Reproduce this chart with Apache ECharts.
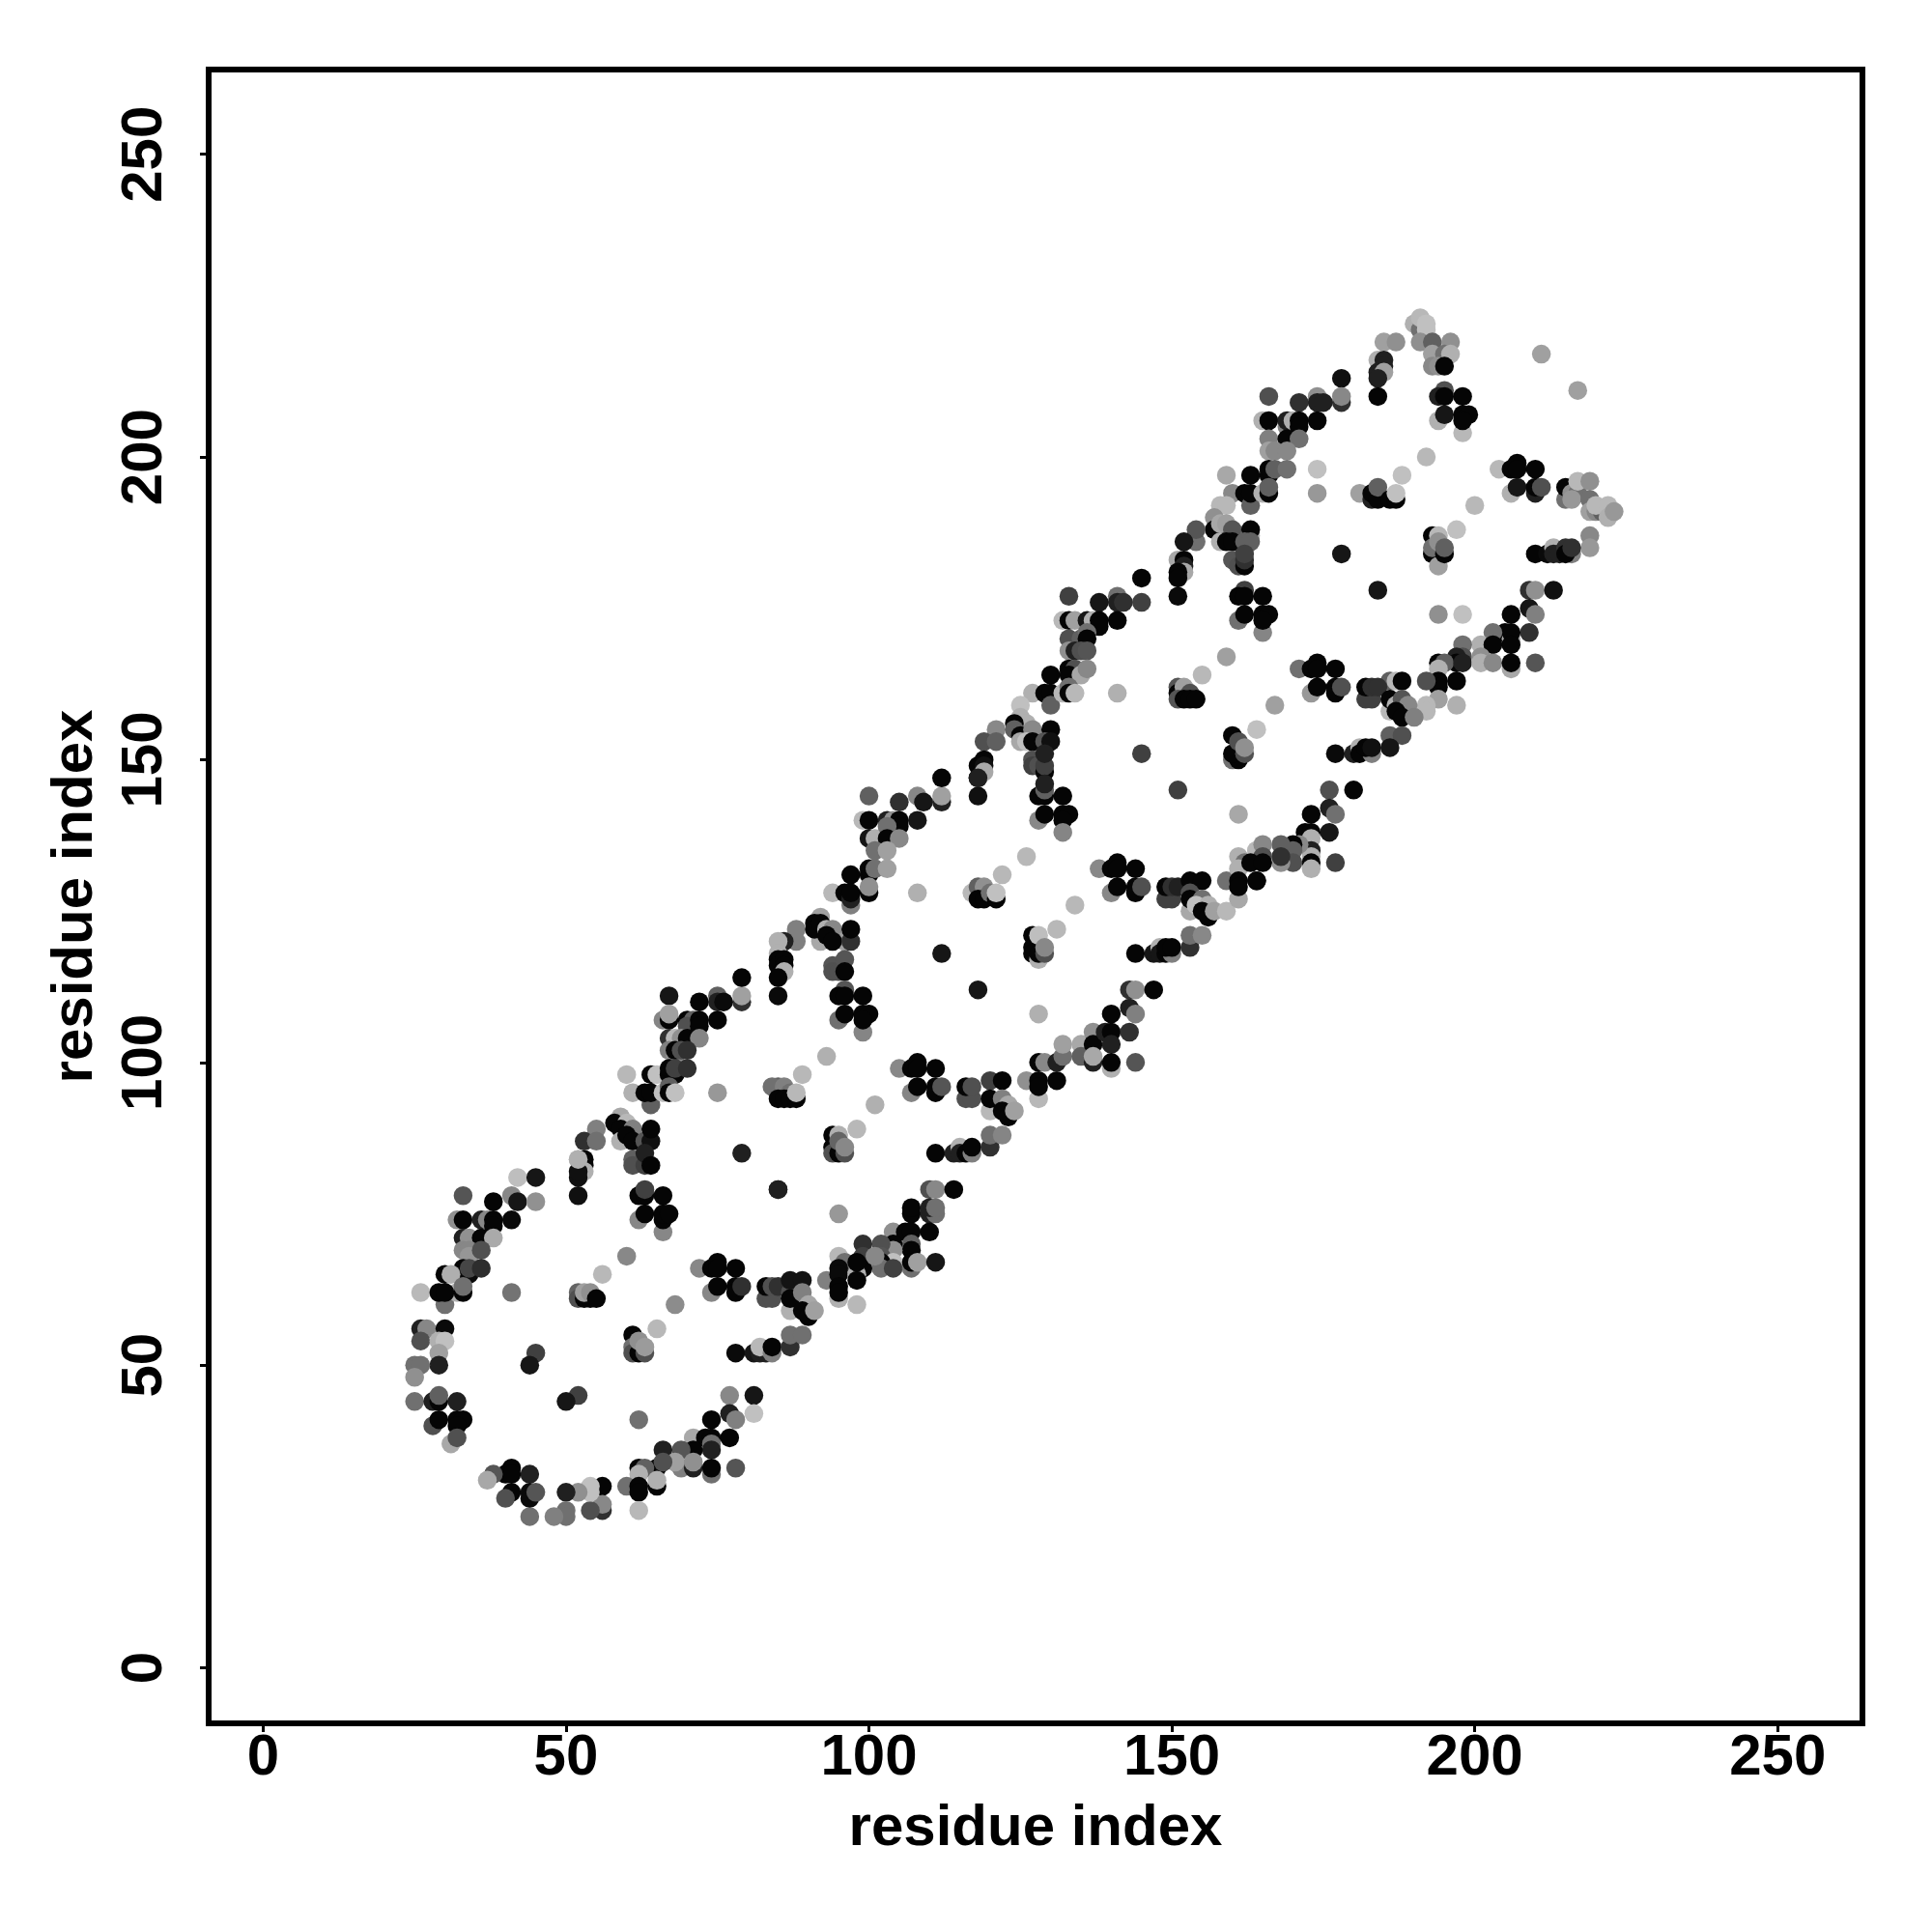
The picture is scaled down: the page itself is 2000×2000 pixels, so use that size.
<!DOCTYPE html>
<html>
<head>
<meta charset="utf-8">
<style>html,body{margin:0;padding:0;background:#fff}#c{width:2000px;height:2000px}</style>
<script src="https://cdn.jsdelivr.net/npm/echarts@6/dist/echarts.min.js"></script>
</head>
<body>
<div id="c"></div>
<script>
// every contact: [residue i, residue j, grey level of the point]
const tickValues = [0, 50, 100, 150, 200, 250];
const axisTitle = "residue index";

const contactsLowerTurn = [
[42,81,190],[45,81,22],[33,78,85],[41,78,135],[38,77,5],[42,77,22],[45,77,145],
[32,74,145],[33,74,5],[36,74,32],[37,74,135],[38,74,5],[38,73,5],[41,74,10],
[33,71,32],[34,71,145],[36,71,5],[38,71,170],
[33,69,135],[34,69,135],[34,68,150],[36,69,80],
[33,66,5],[33,65,5],[34,65,10],[34,66,70],[36,66,45],[30,65,5],[31,65,175],
[30,60,112],[26,62,185],[29,62,5],[32,62,176],[33,62,5],[33,63,112],[30,62,5],
[41,62,115],
[52,84,176],[53,84,5],[53,83,5],[53,82,176],[52,81,16],[52,82,16],[52,78,16],
[62,74,135],[63,75,5],[62,78,5],[63,78,5],[63,79,64],[66,78,5],[66,72,135],[66,74,5],[66,75,5],[67,75,5],
[85,79,32],[95,75,152],[60,68,136],[56,65,184],
[52,62,100],[52,61,80],[53,61,5],[54,61,5],[53,62,160],[54,62,144],[55,61,5],
[72,66,135],[74,66,5],[75,67,5],[75,66,5],[78,66,5],[74,62,135],[75,63,5],[78,63,5],[78,62,5],[79,63,48],
[83,61,80],[84,61,80],[83,63,5],[84,63,80],[85,63,48],[87,59,176],[87,62,80],[87,61,5],[87,64,20],[89,64,20],[89,62,128],[90,60,168],[89,59,5],[90,58,5],[91,59,160],
[93,64,128],[95,68,184],[96,67,112],[95,61,176],[95,66,10],[95,65,10],[95,63,5],[95,62,5],
[26,56,32],[27,56,135],[30,56,10],[26,54,80],[29,54,176],[30,54,192],[29,52,160],[29,50,32],[25,50,112],[26,50,112],[25,48,144],
[45,52,64],[44,50,22],[52,45,64],[50,44,22],
[61,55,5],[61,53,112],[61,52,80],[62,52,5],[63,52,80],[62,54,144],[63,53,155],
[65,56,184],[68,60,140],
[78,52,10],[81,52,22],[82,52,32],[83,52,32],[82,53,184],[84,52,128],[84,53,5],[87,53,48],[87,55,112],[89,55,112],
[77,45,136],[81,45,22],[81,42,192],[77,42,32],[78,41,128],[74,41,5],[62,41,112],
[71,38,168],[77,38,5],[73,38,5],[74,38,5],[74,37,112],[74,36,32],[71,36,5],[69,36,85],[66,36,32],
[69,33,128],[68,34,160],[71,33,32],[71,34,144],[74,32,112],[74,33,5],[78,33,85],
[65,33,5],[66,34,80],[62,33,5],[63,33,96],[62,32,176],[65,30,5],[65,31,176],[60,30,112],[62,30,5],[62,29,5],[62,26,184],
[56,30,5],[56,26,48],[56,27,136],[54,26,80],[54,30,192],[54,29,192],[52,29,144],[50,29,32],[50,26,112],[50,25,112],[48,25,128],[44,25,112],
[44,32,32],[41,33,5],[40,32,5],[41,32,5],[38,32,85],[37,31,168],[41,29,5],[40,28,80],[44,29,10],[44,28,10],[45,29,85],
[25,44,112],[28,44,32],[29,44,5],[29,45,96],[32,44,32],[28,40,80],[29,41,5],[32,41,5],[33,41,5],[32,40,5],[31,37,168],[32,38,80]
];

const contactsSecondTurn = [
[100,144,96],[105,143,48],[108,144,136],[109,143,22],[112,143,32],[112,144,160],[112,147,5],
[118,144,16],[118,147,16],
[128,140,136],[128,144,5],[129,144,5],[129,145,96],[132,144,5],[129,141,5],[132,141,5],[133,141,5],[132,140,5],[132,138,133],
[151,145,64],[161,141,168],
[99,140,184],[100,140,5],[103,140,32],[104,140,144],[105,140,5],[105,139,5],[108,140,22],
[100,137,22],[101,137,176],[103,139,112],[103,137,5],[105,137,136],
[101,135,112],[103,135,160],
[97,131,5],[100,131,5],[100,132,5],[101,132,112],[103,132,160],[100,128,5],[100,129,144],
[94,128,184],[96,128,5],[97,126,128],[97,127,32],[97,128,5],[108,128,176],
[117,128,184],[118,129,96],[119,129,144],[118,127,5],[119,127,5],[120,128,112],[121,127,5],[121,128,192],
[122,131,184],[126,134,184],[134,126,184],[131,122,184],
[127,121,5],[127,119,5],[127,118,5],[128,117,176],[128,118,5],[129,118,80],[128,121,190],[129,119,136],
[138,132,136],[140,132,5],[141,133,5],[141,132,5],[144,132,5],[140,128,136],[141,129,5],[144,129,5],[144,128,5],[145,129,80],
[149,127,64],[150,127,64],[149,129,5],[150,129,48],[151,129,32],[153,130,5],[155,130,5],[153,125,168],[153,128,80],[153,127,5],[155,127,112],[154,126,192],[156,126,176],[155,125,5],[156,124,5],[157,125,160],[159,125,184],
[159,130,112],[164,135,176],[161,134,176],[162,133,112],[161,132,176],[161,127,168],[161,130,5],[161,129,5],[164,130,5],
[88,122,128],[88,120,128],[86,120,32],[92,124,160],[92,120,168],[91,123,5],[91,122,5],[92,123,5],[93,122,176],[94,122,136],[93,121,5],[96,120,160],[94,120,5],[97,120,48],[97,122,5],
[94,116,85],[94,115,80],[95,115,80],[96,117,85],[96,115,5],
[85,120,176],[85,118,176],[85,117,5],[85,116,5],[86,117,5],[86,116,5],[86,115,176],[85,114,5],[85,111,10],
[112,118,22],[118,112,22],
[96,112,85],[95,111,5],[96,111,5],[99,111,5],[95,107,112],[96,108,5],[99,105,133],[99,108,5],[100,108,5],[99,107,5],
[128,108,176],[93,101,176],[89,98,184],[101,93,176],[98,89,184],
[105,99,136],[107,99,5],[108,100,5],[108,99,5],[111,99,5],[107,95,133],[108,96,5],[111,96,5],[111,95,5],[112,96,85],
[116,94,80],[117,94,80],[116,96,5],[117,96,80],[120,97,64],[122,97,5],[120,92,184],[120,94,5],[122,94,128],[123,93,168],[122,92,5],[123,91,5],[124,92,160],
[126,97,144],[128,94,184],[128,97,5],[128,96,5],[131,97,5],
[128,100,5],[129,100,136],[131,100,32],[132,101,112],[132,103,160],[135,103,168],[135,101,96],
[137,105,144],[137,100,32],[137,103,5],[137,101,168],[139,105,32],[140,105,5],[140,99,176],[140,103,32],[140,100,5],[143,105,48],[144,100,85],[140,108,5],[143,109,32],[144,108,128],[143,112,48],[144,112,144],[147,112,5],
[144,118,5],[147,118,22],[148,119,176],[148,118,22],[149,118,5],[150,118,128],[149,119,5],[150,119,5],[153,119,48],[153,121,112],[155,121,136],
[111,85,5],[114,85,32],[115,86,176],[115,85,32],[116,85,5],[117,85,128],[117,86,5],[120,86,48],[120,88,112],[122,88,133],
[94,88,5],[94,86,5],[94,85,80],[95,85,5],[95,88,176],[95,87,100],[96,85,80],[96,86,136],
[85,79,32],[110,79,80],[111,79,136],[114,79,5],[107,76,5],[110,76,32],[111,76,112],
[85,96,96],[84,96,112],[86,96,128],[87,95,112],[85,94,5],[86,94,5],[87,94,5],[88,94,5],[88,95,184]
];

const contactsTopTurn = [
[190,222,176],[191,221,112],[191,223,184],[192,222,192],[192,221,192],[191,219,144],
[185,219,160],[187,219,144],[193,219,96],[196,219,144],
[193,217,160],[195,217,112],[196,217,176],[193,215,136],[194,215,144],[195,215,5],
[211,217,160],[217,211,160],
[184,216,176],[185,216,32],[185,215,32],[184,214,32],[185,214,160],[184,213,32],[184,210,5],
[178,213,16],[178,209,48],[178,210,136],[174,210,144],[174,209,32],[175,209,32],[171,209,48],[166,210,80],
[195,211,80],[194,210,32],[195,210,5],[198,210,5],[194,206,176],[195,207,22],[198,207,5],[199,207,5],[198,204,184],[198,206,5],
[165,206,176],[166,206,5],[169,205,128],[169,206,32],[170,206,176],[171,206,5],[171,205,5],[174,206,5],
[166,203,128],[169,203,5],[171,203,112],[166,201,160],[167,201,136],[169,201,136],
[166,197,5],[166,198,5],[167,198,96],[169,198,112],[163,197,5],[159,197,168],[174,198,192],[174,194,152],
[160,194,136],[162,194,5],[163,192,96],[163,194,5],[165,194,176],[166,194,5],[166,195,96],
[158,192,184],[159,192,184],[157,190,144],[157,188,5],[158,188,5],[158,189,168],[159,189,160],[160,188,85],[163,187,176],[163,188,5],[154,186,112],[154,188,85],[152,186,22],[158,186,176],[159,186,5],[160,186,5],[162,186,96],[163,186,96],
[160,183,85],[161,182,80],[162,182,5],[162,183,48],[162,184,64],
[151,183,168],[152,183,5],[152,182,32],[152,181,168],[151,181,5],[151,180,5],[151,177,10],
[178,184,22],[184,178,22],
[162,178,64],[161,177,5],[162,177,5],[165,177,5],[161,173,112],[162,174,5],[165,171,133],[165,174,5],[166,174,5],[165,173,5],
[194,174,144],[198,174,192],
[193,187,5],[194,187,184],[193,184,5],[193,185,112],[194,182,160],[194,186,144],[195,184,5],[195,185,96],
[197,188,192],[200,192,184],[188,197,192],[192,200,184],
[181,194,160],[183,193,32],[183,194,5],[184,193,5],[184,195,96],[186,193,5],[187,193,5],[187,194,192],
[204,198,184],[206,198,5],[207,199,5],[207,198,5],[210,198,5],[206,194,176],[207,195,22],[210,194,32],[210,195,5],[211,195,80],
[215,193,112],[215,195,5],[216,194,144],[217,194,112],[216,193,152],[217,196,184],[219,196,144],[219,193,112],[219,191,160],[220,191,136],[221,191,96],[220,192,184],[222,192,184],[222,190,176],[223,191,152],
[219,187,136],[219,185,152],[210,184,5],[212,184,10],[213,185,176],[213,184,32],[214,184,32],[215,185,48],[216,184,128],[215,184,5],[216,185,48],
[209,178,48],[210,178,144],[213,178,16],[209,175,22],[210,174,128],[206,174,5],[209,171,48],[210,166,85],[205,171,5],[206,170,168],[206,171,5],[206,169,5],[203,171,112],[201,169,176],[203,169,5],
[198,169,112],[198,167,80],[197,167,32],[197,166,5],[194,166,5],[195,166,96],[198,166,32],[201,167,144],[201,166,176],[203,166,136],[206,165,168],[206,166,5],
[194,165,176],[194,163,5],[194,162,5],[197,163,5],[192,163,80],[194,160,160],[197,159,176],[192,159,184],[192,158,184],
[186,163,96],[187,163,184],[188,163,5],
[182,160,64],[183,160,64],[182,162,5],[183,162,48],[184,162,48],[186,158,184],[186,160,5],[187,159,176],[188,160,85],[189,159,136],[187,158,5],[188,157,5],[190,157,128],
[186,154,96],[188,154,80],[186,152,22],
[177,151,10],[180,151,32],[181,152,176],[181,151,5],[183,151,128],[182,152,5],[183,152,16],
[171,165,112],[173,165,5],[174,166,5],[174,165,5],[177,165,5],[173,161,152],[174,162,5],[177,162,5],[177,161,5],[178,162,80],
[159,167,160],[155,164,184],[167,159,160],[164,155,192],
[151,162,85],[151,161,5],[152,162,160],[153,161,80],[151,160,85],[152,160,5],[153,160,5],[154,160,5],
[160,150,112],[161,150,5],[160,151,5],[160,154,5],[161,153,80],[162,151,80],[162,152,144]
];

const contactsRidgeLow = [
[79,110,48],[79,111,160],[79,114,5],
[67,111,22],[72,110,5],[75,111,96],[75,110,32],[76,110,10],[75,107,5],
[66,107,133],[67,107,5],[67,108,160],[70,107,5],[71,107,96],[70,106,80],[72,107,5],[72,106,5],
[67,104,48],[68,104,184],[69,104,144],[70,104,5],[72,104,133],
[67,102,128],[68,101,144],[68,102,5],[69,102,80],[70,102,48],
[60,98,184],[64,98,5],[65,98,192],[67,98,5],[67,99,5],[68,98,5],[68,99,64],[70,99,48],
[61,95,176],[64,93,96],[63,95,5],[64,95,5],[66,95,192],[67,96,96],[67,95,5],[68,95,192],[75,95,152],[79,85,32],
[59,91,168],[58,90,5],[60,90,184],[59,89,5],[61,89,128],[55,89,128],[53,87,48],[55,87,112],[59,87,176],[60,88,5],[61,87,5],[63,87,85],[64,87,16],[64,89,5],
[61,84,96],[61,83,80],[63,83,64],[63,85,32],[64,83,5],
[52,84,176]
];

const contactsRidgeMid = [
[145,180,5],[133,177,64],[138,176,22],[141,177,112],[141,176,32],[142,176,48],[145,176,64],
[141,173,5],[132,173,184],[133,173,5],[134,173,160],[136,173,22],[137,173,176],[138,173,5],[138,172,5],
[133,170,80],[135,170,96],[136,171,112],[136,170,5],[133,168,144],[134,168,32],[135,168,80],[136,168,85],
[130,164,5],[133,165,5],[134,165,80],[133,164,5],[135,164,168],[136,165,136],
[127,161,176],[129,161,5],[130,161,5],[130,159,96],[132,161,184],[133,162,112],[133,161,5],[134,161,184],[141,161,176],
[125,159,192],[125,157,176],[126,156,176],[124,156,5],[121,155,136],[124,155,96],[125,154,5],[127,155,136],[125,153,168],[126,153,192],[127,153,5],[130,155,5],[129,153,85],[130,153,16],
[119,153,80],[121,153,96],[118,149,5],[119,150,5],[119,149,16],[119,148,168],[118,147,32],
[127,150,80],[127,149,64],[128,149,80],[129,148,5],[129,149,64],[129,151,32],[145,151,64],[129,146,32]
];

const contactsRidgeRight = [
[176,145,80],[180,145,5],[176,142,32],[177,141,112],[173,141,5],[176,138,22],[172,138,5],[173,138,5],
[173,137,176],[173,135,32],[173,134,176],[173,133,5],[173,132,176],[177,133,64],
[171,136,136],[170,136,5],[170,135,96],[170,133,80],[168,133,144],[168,136,96],[168,134,48],
[164,135,184],[165,136,136],[165,134,80],[163,133,5],[165,133,5],[164,130,5]
];

const contactsLowerRidge = [
[107,75,5],[110,75,32],[111,75,112],[110,72,5],[104,72,144],[106,72,5],[107,72,5],[107,70,96],[107,69,5],
[104,70,5],[104,69,144],[102,70,80],[102,68,85],[99,70,48],[99,68,64],[104,67,192],[102,67,5],[102,66,112],[104,66,64],[99,66,5],[101,68,136],
[107,66,112],[107,67,5],[108,67,160],[111,67,22],[98,65,176],[98,64,5],[98,60,184],[98,67,5]
];

const contacts = [].concat(contactsLowerTurn, contactsLowerRidge, contactsSecondTurn, contactsRidgeLow, contactsRidgeMid, contactsRidgeRight, contactsTopTurn);

const labelFont = {fontFamily: '"Liberation Sans", Arial, sans-serif', fontWeight: 'bold', fontSize: 60, color: '#000'};

const chart = echarts.init(document.getElementById('c'), null, {renderer: 'canvas'});
chart.setOption({
  animation: false,
  backgroundColor: '#fff',
  grid: {show: true, left: 216, right: 72, top: 72, bottom: 216, borderColor: '#000', borderWidth: 6, backgroundColor: 'transparent'},
  xAxis: {
    type: 'value', min: -9.0, max: 264,
    splitLine: {show: false}, axisLine: {show: false, onZero: false},
    axisTick: {show: true, length: 9, lineStyle: {color: '#000', width: 3}, customValues: tickValues},
    axisLabel: Object.assign({show: true, margin: 6, customValues: tickValues}, labelFont),
    name: axisTitle, nameLocation: 'middle', nameGap: 79, nameTextStyle: labelFont
  },
  yAxis: {
    type: 'value', min: -9.16, max: 264,
    splitLine: {show: false}, axisLine: {show: false, onZero: false},
    axisTick: {show: true, length: 9, lineStyle: {color: '#000', width: 3}, customValues: tickValues},
    axisLabel: Object.assign({show: true, margin: 66, rotate: 90, customValues: tickValues, align: 'center', verticalAlign: 'middle'}, labelFont),
    name: axisTitle, nameLocation: 'middle', nameRotate: 90, nameGap: 108, nameTextStyle: labelFont
  },
  series: [{
    type: 'scatter', data: contacts, symbol: 'circle', symbolSize: 19.5, clip: false,
    encode: {x: 0, y: 1},
    itemStyle: {opacity: 1, color: p => { const g = p.data[2]; return 'rgb(' + g + ',' + g + ',' + g + ')'; }},
    emphasis: {disabled: true}
  }]
});
</script>
</body>
</html>
